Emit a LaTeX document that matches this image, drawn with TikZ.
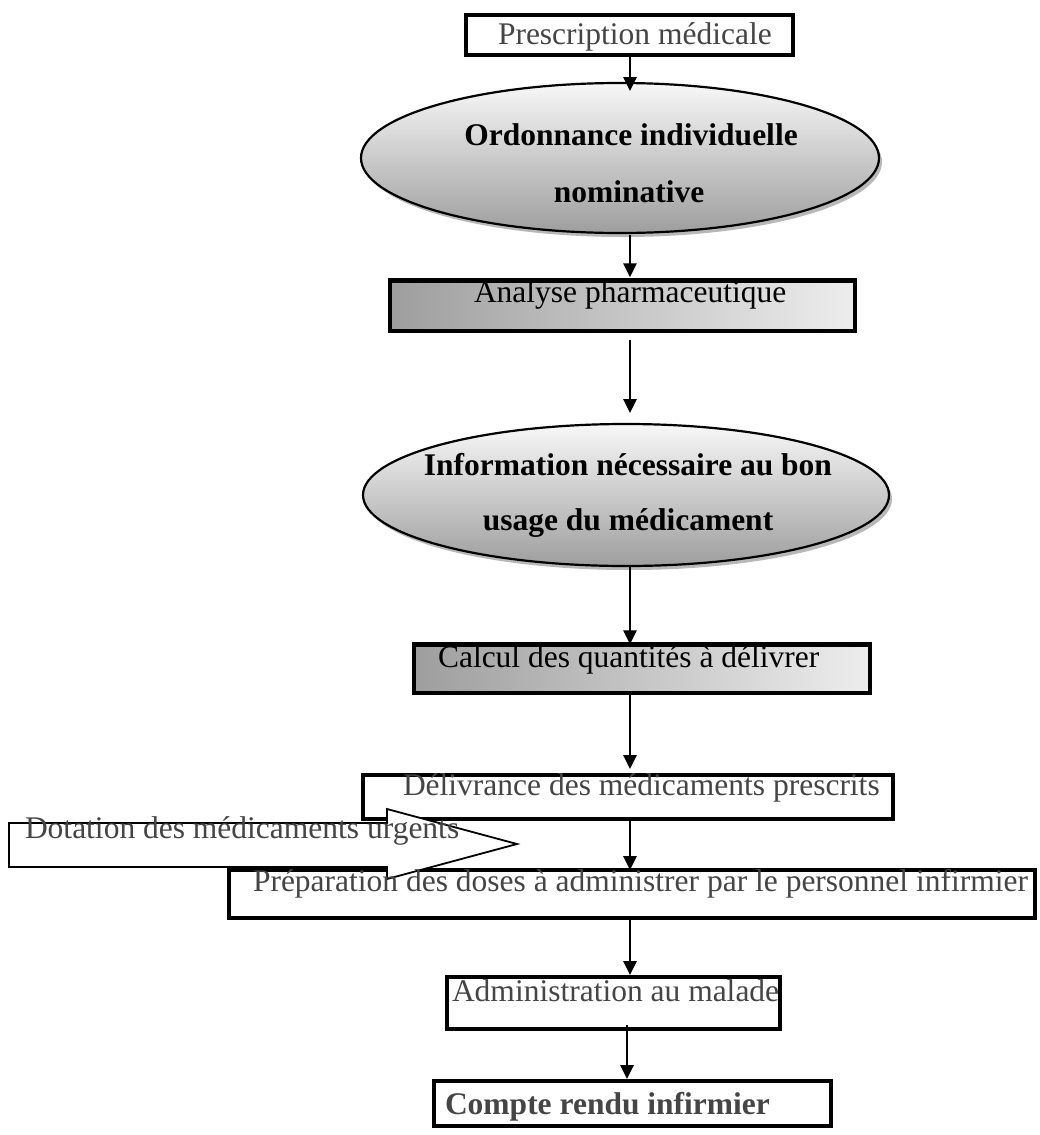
\documentclass[tikz,border=0pt]{standalone}
\usepackage{fontspec}
\setmainfont{Liberation Serif}
\usetikzlibrary{arrows.meta,shadows,shapes.geometric}
\definecolor{inkgray}{HTML}{454545}
\begin{document}
\begin{tikzpicture}[x=1pt,y=-1pt,
  every node/.style={inner sep=0pt, outer sep=0pt},
  txt/.style={anchor=base west, font=\fontsize{31.5}{38}\selectfont, text=inkgray},
  txtk/.style={txt, text=black},
  boldc/.style={anchor=base, font=\fontsize{31.5}{38}\selectfont\bfseries, text=black},
  boxw/.style={rectangle, draw=black, line width=4pt, fill=white},
  boxg/.style={rectangle, draw=black, line width=4.5pt, left color=black!38, right color=black!7},
  oval/.style={ellipse, draw=black, line width=2.2pt, top color=black!3, bottom color=black!38,
    drop shadow={shadow xshift=3pt, shadow yshift=-4pt, fill=black!28, opacity=1}},
  flow/.style={line width=2.6pt, -{Triangle[width=13pt,length=14pt]}},
]
\useasboundingbox (0,0) rectangle (1039,1135);

% spine of the flow
\coordinate (sp) at (630,0);
\coordinate (sp2) at (627,0);

% shapes
\node[boxw, minimum width=327pt, minimum height=40pt] (b1) at (629.5,34.5) {};
\node[oval, minimum width=518pt, minimum height=150pt] (e1) at (620,158) {};
\node[boxg, minimum width=465pt, minimum height=50.5pt] (b2) at (622.5,305.5) {};
\node[oval, minimum width=526pt, minimum height=142pt] (e2) at (626,495) {};
\node[boxg, minimum width=456pt, minimum height=48.5pt] (b3) at (642,668.5) {};
\node[boxw, minimum width=530pt, minimum height=44pt] (b4) at (628,797) {};
\node[boxw, minimum width=806pt, minimum height=48pt] (b5) at (632,894) {};
\node[boxw, minimum width=333pt, minimum height=52pt] (b6) at (613.5,1003) {};
\node[boxw, minimum width=397pt, minimum height=45pt] (b7) at (632.5,1103.5) {};

% side supply arrow
\draw[line width=1.8pt, fill=white] (9,823) -- (387,823) -- (387,809) -- (517,844)
  -- (387,879) -- (387,867) -- (9,867) -- cycle;

% connectors
\draw[flow, shorten >=-8pt] (b1.south -| sp) -- (e1.north -| sp);
\draw[flow, shorten <=2pt, shorten >=3pt] (e1.south -| sp) -- (b2.north -| sp);
\draw[flow, shorten <=9pt, shorten >=11pt] (b2.south -| sp) -- (e2.north -| sp);
\draw[flow] (e2.south -| sp) -- (b3.north -| sp);
\draw[flow, shorten >=6pt] (b3.south -| sp) -- (b4.north -| sp);
\draw[flow] (b4.south -| sp) -- (b5.north -| sp);
\draw[flow, shorten >=2pt] (b5.south -| sp) -- (b6.north -| sp);
\draw[flow, shorten <=-4pt, shorten >=2pt] (b6.south -| sp2) -- (b7.north -| sp2);

% texts
\node[txt] (t1) at (498,44) {Prescription médicale};
\node[boldc] (t2a) at (631,145) {Ordonnance individuelle};
\node[boldc] (t2b) at (629,202) {nominative};
\node[txtk] (t3) at (474,302) {Analyse pharmaceutique};
\node[boldc] (t4a) at (628,475) {Information nécessaire au bon};
\node[boldc] (t4b) at (628,530) {usage du médicament};
\node[txtk] (t5) at (438,667) {Calcul des quantités à délivrer};
\node[txt] (t6) at (403,795) {Délivrance des médicaments prescrits};
\node[txt] (t7) at (25,838) {Dotation des médicaments urgents};
\node[txt] (t8) at (253,891) {Préparation des doses à administrer par le personnel infirmier};
\node[txt] (t9) at (452,1001) {Administration au malade};
\node[txt, font=\fontsize{31.5}{38}\selectfont\bfseries] (t10) at (445,1114) {Compte rendu infirmier};
\end{tikzpicture}
\end{document}
